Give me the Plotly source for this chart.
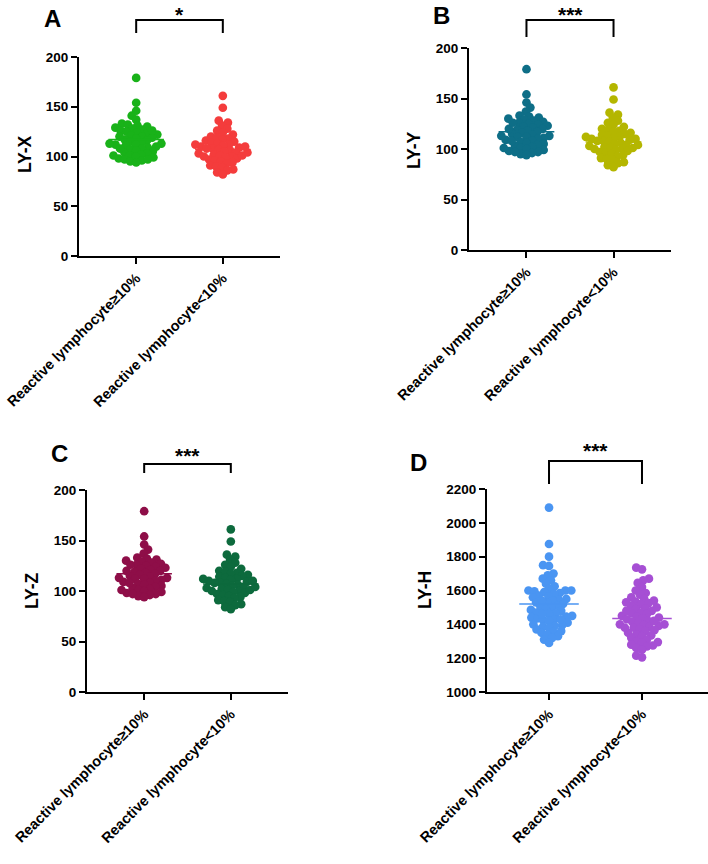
import math
import plotly.graph_objects as go

# ---------------- data ----------------
categories = ["Reactive lymphocyte\u226510%", "Reactive lymphocyte<10%"]

# Panels A, B and C show the same point pattern
ly_high = [179, 154, 146, 141, 137, 133, 132, 131, 130, 129, 128, 127, 126, 125, 124,
           123, 122, 121, 120, 119, 118, 117, 116, 115, 114, 113, 112, 112, 111, 110,
           109, 108, 107, 106, 105, 104, 103, 102, 101, 100, 99, 98, 97, 96, 95, 94,
           120, 113, 108, 101, 97, 126]
ly_low = [161, 149, 136, 134, 131, 128, 126, 124, 122, 120, 119, 118, 117, 116, 115,
          114, 113, 112, 111, 110, 109, 108, 107, 106, 105, 104, 103, 102, 101, 100,
          99, 98, 97, 96, 95, 94, 93, 91, 90, 89, 87, 86, 84, 82, 112, 108, 101, 104,
          100, 110]
ly_means = [117, 107]

lyh_high = [2090, 1875, 1800, 1750, 1745, 1700, 1690, 1670, 1660, 1640, 1625, 1610, 1600,
            1600, 1595, 1590, 1585, 1580, 1570, 1565, 1560, 1550, 1545, 1540, 1530, 1525,
            1520, 1510, 1505, 1500, 1490, 1485, 1480, 1470, 1465, 1460, 1450, 1445, 1440,
            1435, 1430, 1425, 1420, 1410, 1400, 1395, 1390, 1385, 1380, 1370, 1360, 1355,
            1350, 1340, 1330, 1320, 1310, 1290, 1460, 1540, 1600, 1430]
lyh_low = [1735, 1725, 1670, 1660, 1645, 1620, 1600, 1585, 1575, 1560, 1550, 1540, 1535,
           1525, 1520, 1510, 1500, 1495, 1490, 1480, 1470, 1465, 1460, 1450, 1445, 1440,
           1435, 1430, 1420, 1415, 1410, 1400, 1400, 1395, 1390, 1385, 1380, 1370, 1365,
           1360, 1350, 1340, 1335, 1330, 1320, 1310, 1300, 1295, 1290, 1280, 1275, 1270,
           1260, 1250, 1215, 1205, 1420, 1480, 1380, 1530]
lyh_means = [1520, 1435]

y_titles = ["LY-X", "LY-Y", "LY-Z", "LY-H"]
panel_letters = ["A", "B", "C", "D"]
sig_labels = ["*", "***", "***", "***"]
y_ticks_small = [0, 50, 100, 150, 200]
y_ticks_h = [1000, 1200, 1400, 1600, 1800, 2000, 2200]

# ---------------- layout / style ----------------
W, H = 708, 864
FONT = "Liberation Sans"

panels = [
    dict(xd=(79, 280), yd=(57, 256), yr=(0, 200), ticks=y_ticks_small, xr=(-0.66, 1.66),
         data=(ly_high, ly_low), means=ly_means, colors=("#19B219", "#F43C3C"),
         title_xy=(25, 154), letter_xy=(52, 18), br=(20, 33), star_y=14),
    dict(xd=(469, 671), yd=(48, 250), yr=(0, 200), ticks=y_ticks_small, xr=(-0.66, 1.66),
         data=(ly_high, ly_low), means=ly_means, colors=("#0E6E87", "#B4B600"),
         title_xy=(414, 150), letter_xy=(441, 16), br=(20, 37), star_y=14),
    dict(xd=(87, 288), yd=(490, 692), yr=(0, 200), ticks=y_ticks_small, xr=(-0.66, 1.66),
         data=(ly_high, ly_low), means=ly_means, colors=("#8E0E48", "#0D6A3D"),
         title_xy=(32, 591), letter_xy=(59, 453), br=(464, 473), star_y=455),
    dict(xd=(487, 708), yd=(489, 692), yr=(1000, 2200), ticks=y_ticks_h, xr=(-0.667, 1.71),
         data=(lyh_high, lyh_low), means=lyh_means, colors=("#4A95F2", "#A64FD4"),
         title_xy=(425, 590), letter_xy=(418, 462), br=(461, 484), star_y=451),
]


def px_x(p):
    return p / W


def px_y(p):
    return 1 - p / H


def swarm(vals, px_per_val, d):
    ys = [v * px_per_val for v in vals]
    order = sorted(range(len(vals)), key=lambda i: ys[i])
    placed = []
    xs = [0.0] * len(vals)
    for i in order:
        y = ys[i]
        intervals = []
        for (xj, yj) in placed:
            dy = abs(y - yj)
            if dy < d:
                w = math.sqrt(d * d - dy * dy)
                intervals.append((xj - w, xj + w))
        cands = [0.0] + [a for a, b in intervals] + [b for a, b in intervals]
        cands.sort(key=lambda c: (abs(c), c))
        for c in cands:
            if all(not (a + 1e-6 < c < b - 1e-6) for a, b in intervals):
                xs[i] = c
                break
        placed.append((xs[i], y))
    return xs


fig = go.Figure()
layout = dict(width=W, height=H, margin=dict(l=0, r=0, t=0, b=0, autoexpand=False),
              autosize=False, plot_bgcolor="white", paper_bgcolor="white", showlegend=False,
              shapes=[], annotations=[])

tickfont = dict(family=FONT, size=13.5, color="black", weight="bold")

for k, p in enumerate(panels):
    sfx = "" if k == 0 else str(k + 1)
    xa, ya = "xaxis" + sfx, "yaxis" + sfx
    xr_, yr_ = "x" + sfx, "y" + sfx
    dom_w = p["xd"][1] - p["xd"][0]
    dom_h = p["yd"][1] - p["yd"][0]
    px_per_xu = dom_w / (p["xr"][1] - p["xr"][0])
    px_per_val = dom_h / (p["yr"][1] - p["yr"][0])

    for g in range(2):
        vals = p["data"][g]
        offs = swarm(vals, px_per_val, 6.0)
        xs = [g + o / px_per_xu for o in offs]
        fig.add_trace(go.Scatter(x=xs, y=vals, mode="markers", xaxis=xr_, yaxis=yr_,
                                 marker=dict(size=8.7, color=p["colors"][g], line=dict(width=0)),
                                 hoverinfo="skip"))
        m = p["means"][g]
        fig.add_trace(go.Scatter(x=[g - 0.32, g + 0.32], y=[m, m], mode="lines",
                                 xaxis=xr_, yaxis=yr_,
                                 line=dict(color=p["colors"][g], width=1.5), hoverinfo="skip"))

    layout[xa] = dict(domain=[px_x(p["xd"][0]), px_x(p["xd"][1])], anchor=yr_,
                      range=list(p["xr"]), tickvals=[0, 1], ticktext=categories,
                      tickangle=-45, showline=True, linecolor="black", linewidth=2.2,
                      ticks="outside", ticklen=6, tickwidth=2, tickcolor="black",
                      showgrid=False, zeroline=False, automargin=False,
                      tickfont=dict(family=FONT, size=14.5, color="black", weight="bold"))
    layout[ya] = dict(domain=[px_y(p["yd"][1]), px_y(p["yd"][0])], anchor=xr_,
                      range=list(p["yr"]), tickvals=p["ticks"], showline=True,
                      linecolor="black", linewidth=2.2, ticks="outside", ticklen=6,
                      tickwidth=2, tickcolor="black", showgrid=False, zeroline=False,
                      automargin=False, tickfont=tickfont)

    tx, ty = p["title_xy"]
    layout["annotations"].append(dict(text=y_titles[k], x=px_x(tx), y=px_y(ty), xref="paper",
                                      yref="paper", textangle=-90, showarrow=False,
                                      xanchor="center", yanchor="middle",
                                      font=dict(family=FONT, size=17.5, color="black", weight="bold")))
    lx, ly = p["letter_xy"]
    layout["annotations"].append(dict(text=panel_letters[k], x=px_x(lx), y=px_y(ly), xref="paper",
                                      yref="paper", showarrow=False, xanchor="center",
                                      yanchor="middle", borderpad=0,
                                      font=dict(family=FONT, size=24, color="black", weight="bold")))
    top, bot = p["br"]
    layout["shapes"].append(dict(type="path", xref=xr_, yref="paper",
                                 path=f"M 0 {px_y(bot)} L 0 {px_y(top)} L 1 {px_y(top)} L 1 {px_y(bot)}",
                                 line=dict(color="black", width=2)))
    layout["annotations"].append(dict(text=sig_labels[k], x=0.5, y=px_y(p["star_y"]), xref=xr_,
                                      yref="paper", showarrow=False, xanchor="center",
                                      yanchor="middle", borderpad=0,
                                      font=dict(family=FONT, size=21, color="black", weight="bold")))

fig.update_layout(**layout)
fig.write_html("out.html")
